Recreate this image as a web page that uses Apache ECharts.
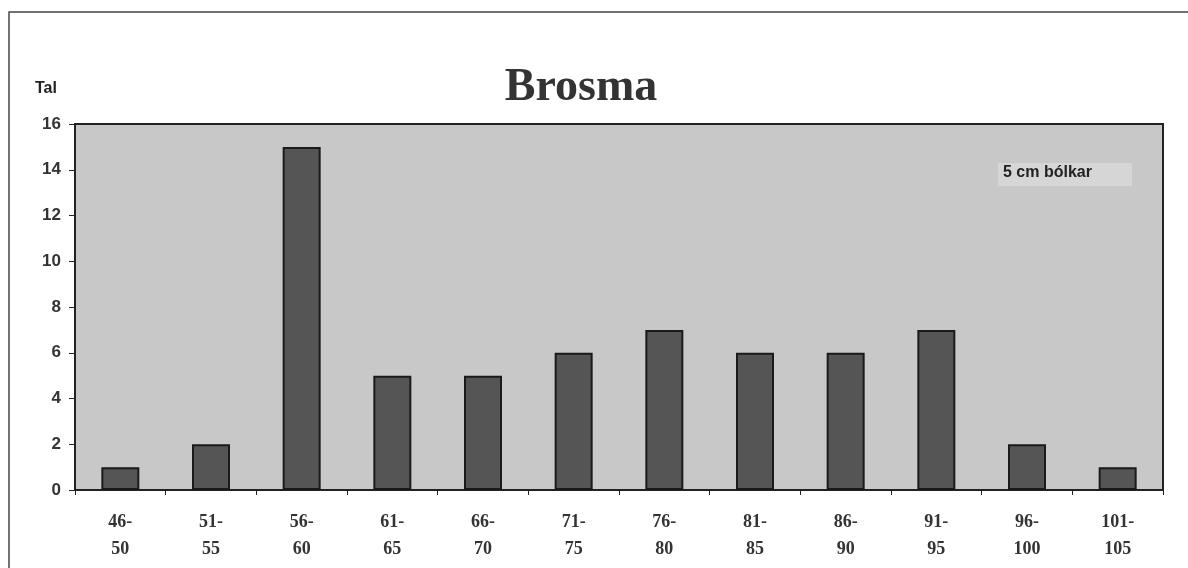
<!DOCTYPE html>
<html>
<head>
<meta charset="utf-8">
<script src="https://cdn.jsdelivr.net/npm/echarts@6/dist/echarts.min.js"></script>
<style>
  html, body { margin: 0; padding: 0; background: #fff; }
  #chart { width: 1188px; height: 568px; }
</style>
</head>
<body>
<div id="chart"></div>
<script>
// length classes (cm) and counts
const categories = ['46-\n50', '51-\n55', '56-\n60', '61-\n65', '66-\n70', '71-\n75',
  '76-\n80', '81-\n85', '86-\n90', '91-\n95', '96-\n100', '101-\n105']
const counts = [1, 2, 15, 5, 5, 6, 7, 6, 6, 7, 2, 1]
const yMax = 16
const yStep = 2

const chart = echarts.init(document.getElementById('chart'))

chart.setOption({
  backgroundColor: '#fff',
  animation: false,
  title: {
    text: 'Brosma',
    left: 576,
    top: 60,
    textAlign: 'center',
    textStyle: { fontFamily: 'Liberation Serif', fontSize: 46, fontWeight: 'bold', color: '#333' }
  },
  graphic: [
    // outer frame
    { type: 'polyline', shape: { points: [[9, 600], [9, 12], [1190, 12]] },
      style: { stroke: '#444', lineWidth: 1.5, fill: null } },
    { type: 'text', left: 35, top: 81,
      style: { text: 'Tal', font: 'bold 16px "Liberation Sans"', fill: '#222' } },
    { type: 'rect', shape: { x: 998, y: 163, width: 134, height: 23 },
      style: { fill: '#d6d6d6' } },
    { type: 'text', left: 1003, top: 165,
      style: { text: '5 cm bólkar', font: 'bold 16px "Liberation Sans"', fill: '#222' } }
  ],
  grid: {
    left: 75, right: 25, top: 124, bottom: 78,
    show: true,
    backgroundColor: '#c8c8c8',
    borderColor: '#222',
    borderWidth: 2
  },
  xAxis: {
    type: 'category',
    data: categories,
    axisLine: { lineStyle: { color: '#222', width: 2 } },
    axisTick: { show: true, length: 5, lineStyle: { color: '#222' } },
    axisLabel: {
      margin: 19,
      fontFamily: 'Liberation Serif',
      fontSize: 18,
      fontWeight: 'bold',
      lineHeight: 27,
      color: '#333'
    }
  },
  yAxis: {
    type: 'value',
    min: 0,
    max: yMax,
    interval: yStep,
    splitLine: { show: false },
    axisLine: { show: true, lineStyle: { color: '#222', width: 2 } },
    axisTick: { show: true, length: 6, lineStyle: { color: '#222' } },
    axisLabel: {
      margin: 14,
      fontFamily: 'Liberation Sans',
      fontSize: 17,
      fontWeight: 'bold',
      color: '#333'
    }
  },
  series: [{
    type: 'bar',
    data: counts,
    barWidth: 38,
    itemStyle: {
      color: '#555',
      borderColor: '#1a1a1a',
      borderWidth: 2
    }
  }]
})
</script>
</body>
</html>
